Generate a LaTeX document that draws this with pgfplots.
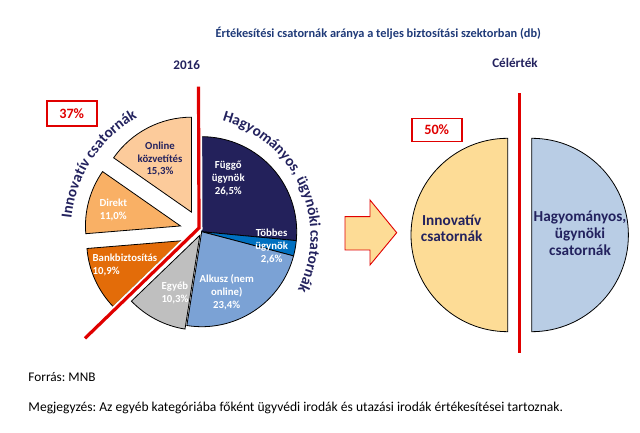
\documentclass[border=0pt]{standalone}
\usepackage{pgfplots}
\pgfplotsset{compat=1.18}
\usepackage{fontspec}
\setmainfont{Carlito}
\usetikzlibrary{decorations.text}
\frenchspacing

\definecolor{navy}{HTML}{23225E}
\definecolor{titleblue}{HTML}{1F3A78}
\definecolor{cF}{HTML}{23215B}
\definecolor{cT}{HTML}{0070C0}
\definecolor{cA}{HTML}{7BA2D5}
\definecolor{cE}{HTML}{BFBFBF}
\definecolor{cB}{HTML}{E36C09}
\definecolor{cD}{HTML}{F9B065}
\definecolor{cO}{HTML}{FCCB9B}
\definecolor{cInno}{HTML}{FDDC96}
\definecolor{cHagy}{HTML}{B9CDE5}
\definecolor{mnbred}{HTML}{E00000}

\newcommand\fs[2]{\fontsize{#1}{#2}\selectfont}

\begin{document}
\begin{tikzpicture}
\begin{axis}[hide axis, x=1bp, y=1bp, xmin=0, xmax=640, ymin=0, ymax=433, clip=false]
\path (axis cs:0,0) rectangle (axis cs:640,433);

% 2016 pie: share (%), colour, explode (bp)
\gdef\curang{90}
\foreach \v/\col/\ex in {26.5/cF/0, 2.6/cT/0, 23.4/cA/0, 10.3/cE/4, 10.9/cB/22, 11.0/cD/22, 15.3/cO/22} {
  \pgfmathsetmacro\s{\curang}
  \pgfmathsetmacro\e{\s-3.6*\v}
  \pgfmathsetmacro\cx{201.7+\ex*cos((\s+\e)/2)}
  \pgfmathsetmacro\cy{201.3+\ex*sin((\s+\e)/2)}
  \edef\tmp{\noexpand\filldraw[fill=\col, draw=black, line width=0.8bp] (axis cs:\cx,\cy) -- ++(\s:95bp) arc[start angle=\s, end angle=\e, radius=95bp] -- cycle;}
  \tmp
  \xdef\curang{\e}
}

% dividing line
\draw[white, line width=7bp] (axis cs:198.5,346.3) -- (axis cs:199,205) -- (axis cs:85,94.7);
\draw[mnbred, line width=3.2bp] (axis cs:198.5,346.3) -- (axis cs:199,205) -- (axis cs:85,94.7);

% slice labels
\tikzset{lab/.style={align=center, font=\fs{10.8}{13}\bfseries, text=white}}
\node[lab, text=navy] at (axis cs:160,274) {Online\\közvetítés\\15,3\%};
\node[lab] at (axis cs:228.3,254.7) {Függő\\ügynök\\26,5\%};
\node[lab] at (axis cs:113.3,223) {Direkt\\11,0\%};
\node[lab] at (axis cs:271.7,186.3) {Többes\\ügynök\\2,6\%};
\node[lab, align=left, anchor=west, inner sep=0pt] at (axis cs:92.5,168) {Bankbiztosítás\\10,9\%};
\node[lab] at (axis cs:175,140.5) {Egyéb\\10,3\%};
\node[lab] at (axis cs:226.7,140.7) {Alkusz (nem\\online)\\23,4\%};

% curved group labels
\path[decorate, decoration={text along path, text align=center,
  text={|\fs{15.3}{18}\bfseries\color{navy}|Innovatív csatornák}}]
  ([shift={(190:131bp)}]axis cs:201.7,201.3) arc[start angle=190, end angle=103.5, radius=131bp];
\path[decorate, decoration={text along path, text align=center,
  text={|\fs{15.3}{18}\bfseries\color{navy}|Hagyományos, ügynöki csatornák}}]
  ([shift={(90:119.5bp)}]axis cs:191,196.7) arc[start angle=90, end angle=-42, radius=119.5bp];

\node[draw=mnbred, line width=1.6bp, fill=white, minimum width=50bp, minimum height=25bp, text=mnbred, font=\fs{14.3}{16}\bfseries] at (axis cs:71.7,319.5) {37\%};

% arrow
\filldraw[fill=cInno, draw=mnbred, line width=0.9bp] (axis cs:345,216.3) -- (axis cs:370,216.3) -- (axis cs:370,233) -- (axis cs:396.7,200.3) -- (axis cs:370,168) -- (axis cs:370,183) -- (axis cs:345,183) -- cycle;

% target halves
\filldraw[fill=cInno, draw=black, line width=0.8bp] (axis cs:507.7,294.7) arc[start angle=90, end angle=270, radius=96.7bp] -- cycle;
\filldraw[fill=cHagy, draw=black, line width=0.8bp] (axis cs:531.7,294.7) arc[start angle=90, end angle=-90, radius=96.7bp] -- cycle;
\draw[mnbred, line width=3.3bp] (axis cs:519.3,339.7) -- (axis cs:519.3,79.7);
\node[draw=mnbred, line width=1.6bp, fill=white, minimum width=50bp, minimum height=23bp, text=mnbred, font=\fs{14.3}{16}\bfseries] at (axis cs:436.7,303) {50\%};
\node[align=center, font=\fs{15.3}{17}\bfseries, text=navy] at (axis cs:451.7,204.7) {Innovatív\\csatornák};
\node[align=center, font=\fs{15.3}{17.5}\bfseries, text=navy] at (axis cs:580,199.7) {Hagyományos,\\ügynöki\\csatornák};

% titles and notes
\node[font=\fs{12.4}{14}\bfseries, text=titleblue] at (axis cs:378.3,399.7) {Értékesítési csatornák aránya a teljes biztosítási szektorban (db)};
\node[font=\fs{13.2}{15}\bfseries, text=navy] at (axis cs:186.7,368) {2016};
\node[font=\fs{13.2}{15}\bfseries, text=navy] at (axis cs:515,369.7) {Célérték};
\node[anchor=west, inner sep=0pt, font=\fs{13.3}{15}] at (axis cs:28.3,56) {Forrás: MNB};
\node[anchor=west, inner sep=0pt, font=\fs{13.6}{15}] at (axis cs:28.3,25) {Megjegyzés: Az egyéb kategóriába főként ügyvédi irodák és utazási irodák értékesítései tartoznak.};
\end{axis}
\end{tikzpicture}
\end{document}
